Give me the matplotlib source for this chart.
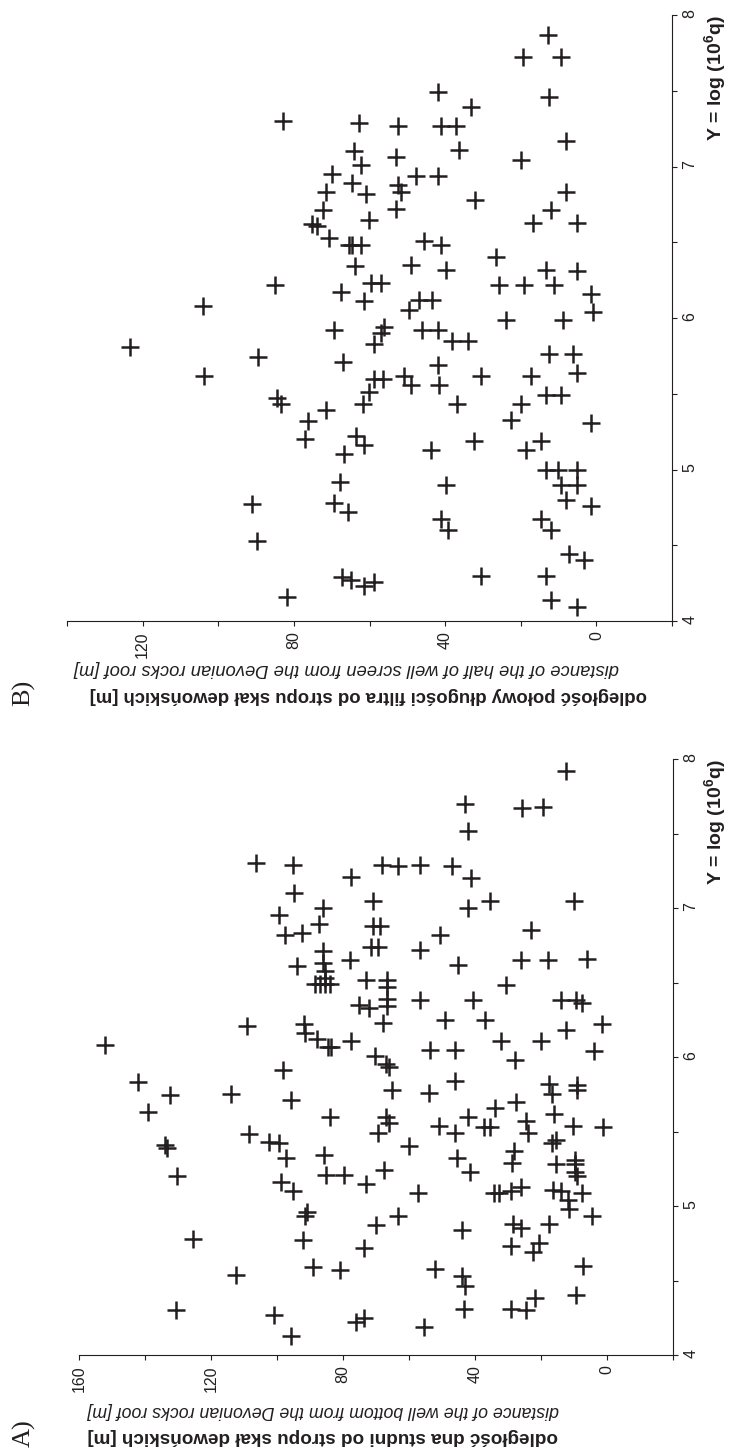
import matplotlib.pyplot as plt
from matplotlib.ticker import MultipleLocator

plt.rcParams['font.family'] = ['Liberation Sans', 'DejaVu Sans']
plt.rcParams['mathtext.fontset'] = 'custom'
plt.rcParams['mathtext.rm'] = 'Liberation Sans:bold'
plt.rcParams['mathtext.default'] = 'rm'

INK = '#231f20'

# panel A: distance of the well bottom from the Devonian roof [m] vs Y = log(10^6 q)
dist_a = [152, 142.2, 132.4, 114, 95.8, 139.2, 84, 108.6, 102.5, 99.5,
          69.4, 67, 66, 65, 54, 46, 42, 46, 51, 37.2,
          35.5, 34, 27.6, 24.5, 24, 16.7, 16, 17.4, 10.3, 1.1,
          8.9, 8.9, 16.7, 15.3, 28, 28.7, 9.6, 9.6, 9.6, 15.3,
          8.9, 16.3, 13.9, 7.5, 11.7, 11.4, 25.9, 29, 34.3, 32.6,
          4.4, 17.4, 28.3, 25.9, 29.1, 20.5, 22.3, 7.1, 9.3, 21.6,
          24.5, 29.1, 43.2, 44, 43, 52, 43.8, 41.4, 45.4, 60,
          57.2, 63.3, 70, 73.6, 81, 89.2, 92, 91.6, 90.9, 95,
          98.7, 97.3, 85.8, 85.1, 79.8, 73, 67.5, 125.5, 112.4, 130.7,
          101, 95.8, 76, 73.5, 55.3, 130.2, 134, 133.3,
          106.2, 95.1, 77.5, 68, 63.2, 94.8, 86.1, 71, 99.3, 87.2,
          97.6, 92.5, 71, 68.8, 86.1, 71.5, 69.2, 77.8, 94, 86.1,
          85.5, 85.5, 85.5, 88.5, 87, 84, 73, 66.7, 66.7, 75.2,
          72, 66.7, 66.7, 67.7, 109.2, 91.7, 91.5, 87.9, 84.6, 83.6,
          77.5, 70.2, 67, 66, 98.1, 5.9, 1.3, 7.4, 3.9,
          12.5, 19.2, 25.8, 42.9, 42, 56.5, 46.8, 41.3, 10, 42,
          50.5, 17.9, 56.5, 30.4, 56.5, 40.4, 36.8, 32.2, 45.9, 20,
          14, 26, 45, 53.5, 49, 27.7, 12.5, 35.3, 23, 9.4]
logq_a = [6.08, 5.83, 5.745, 5.75, 5.71, 5.63, 5.60, 5.48, 5.43, 5.42,
          5.49, 5.60, 5.56, 5.78, 5.76, 5.84, 5.60, 5.49, 5.54, 5.53,
          5.53, 5.66, 5.70, 5.57, 5.49, 5.75, 5.62, 5.82, 5.54, 5.53,
          5.81, 5.78, 5.42, 5.44, 5.37, 5.29, 5.31, 5.28, 5.23, 5.28,
          5.20, 5.11, 5.10, 5.09, 5.04, 4.98, 5.13, 5.10, 5.09, 5.09,
          4.93, 4.88, 4.88, 4.85, 4.73, 4.75, 4.69, 4.60, 4.40, 4.38,
          4.30, 4.31, 4.31, 4.53, 4.46, 4.58, 4.84, 5.23, 5.32, 5.40,
          5.09, 4.93, 4.87, 4.72, 4.57, 4.59, 4.77, 4.93, 4.96, 5.10,
          5.16, 5.32, 5.34, 5.21, 5.21, 5.15, 5.24, 4.78, 4.54, 4.30,
          4.27, 4.13, 4.22, 4.25, 4.19, 5.20, 5.41, 5.39,
          7.30, 7.29, 7.21, 7.29, 7.28, 7.10, 7.00, 7.05, 6.95, 6.89,
          6.82, 6.83, 6.88, 6.88, 6.71, 6.74, 6.74, 6.65, 6.61, 6.63,
          6.58, 6.53, 6.49, 6.49, 6.49, 6.49, 6.52, 6.52, 6.47, 6.35,
          6.33, 6.39, 6.34, 6.23, 6.21, 6.22, 6.16, 6.12, 6.07, 6.07,
          6.11, 6.01, 5.95, 5.93, 5.91, 6.66, 6.22, 6.36, 6.04,
          7.92, 7.68, 7.67, 7.70, 7.52, 7.29, 7.28, 7.20, 7.05, 7.00,
          6.82, 6.65, 6.72, 6.48, 6.38, 6.38, 6.25, 6.11, 6.05, 6.11,
          6.38, 6.65, 6.62, 6.05, 6.25, 5.98, 6.18, 7.05, 6.85, 6.38]

# panel B: distance of the half of well screen from the Devonian roof [m]
dist_b = [83.0, 62.9, 64.0, 62.3, 69.8, 64.5, 60.8, 71.5, 72.2, 60.1,
          75.1, 74, 70.7, 65.4, 64.5, 62.3, 63.9, 59.6, 57, 67.6,
          61.4, 85.1, 104, 123.4, 69.3, 56.1, 57, 58.9, 89.5, 66.9,
          103.8, 58.7, 56.5, 60.1, 84.4, 83.5, 61.8, 71.5, 76.2, 77.1,
          63.6, 61.4, 66.7, 67.8, 69.3, 65.8, 91.0, 89.8, 67.4, 64.9,
          61.4, 58.7, 81.7, 1.3, 0.8, 1.3, 1.3, 3.4,
          12.7, 19.3, 9.3, 41.9, 12.5, 33.1, 41.1, 37.1, 8, 36.3,
          19.9, 41.9, 47.7, 51.7, 8, 32.1, 11.9, 16.7, 5, 45.6,
          41.1, 26.5, 49, 39.8, 13.3, 5, 25.7, 19.1, 11.1, 46.9,
          43.5, 49.6, 23.9, 8.7, 46.1, 41.9, 38.2, 33.9, 12.5, 6.1,
          41.9, 50.9, 30.5, 17.2, 5, 49, 41.6, 13.3, 9.3, 36.8,
          19.9, 22.5, 32.3, 14.6, 43.7, 18.6, 13.3, 10.1, 5, 5,
          39.8, 9.3, 8, 41.1, 14.6, 39.2, 11.9, 7.2, 30.5, 13.3,
          5, 11.9, 52.5, 53, 52.5, 53]
logq_b = [7.30, 7.29, 7.10, 7.01, 6.95, 6.89, 6.82, 6.83, 6.71, 6.65,
          6.62, 6.61, 6.53, 6.48, 6.48, 6.48, 6.34, 6.23, 6.23, 6.17,
          6.11, 6.22, 6.08, 5.81, 5.92, 5.94, 5.90, 5.83, 5.74, 5.71,
          5.62, 5.60, 5.60, 5.51, 5.47, 5.43, 5.43, 5.39, 5.32, 5.20,
          5.22, 5.16, 5.10, 4.92, 4.78, 4.72, 4.77, 4.53, 4.29, 4.27,
          4.23, 4.26, 4.16, 6.16, 6.04, 5.31, 4.76, 4.40,
          7.87, 7.72, 7.72, 7.49, 7.46, 7.39, 7.27, 7.27, 7.17, 7.11,
          7.04, 6.94, 6.94, 6.83, 6.83, 6.78, 6.71, 6.63, 6.63, 6.51,
          6.48, 6.40, 6.35, 6.32, 6.32, 6.31, 6.22, 6.22, 6.22, 6.12,
          6.12, 6.05, 5.99, 5.99, 5.92, 5.92, 5.85, 5.85, 5.76, 5.76,
          5.69, 5.62, 5.62, 5.62, 5.64, 5.56, 5.56, 5.49, 5.49, 5.43,
          5.43, 5.33, 5.19, 5.19, 5.13, 5.13, 5.00, 5.00, 5.00, 4.90,
          4.90, 4.90, 4.80, 4.67, 4.67, 4.60, 4.60, 4.44, 4.30, 4.30,
          4.09, 4.14, 7.27, 7.06, 6.88, 6.72]

W, H = 729, 1449
fig = plt.figure(figsize=(W / 100, H / 100), dpi=100)


def box(left, top, right, bottom):
    # pixel box of the reference -> figure fractions
    return [left / W, 1 - bottom / H, (right - left) / W, (bottom - top) / H]


def draw_panel(ax, dist, logq, dmax):
    # the page is turned: distance runs right-to-left, log q bottom-to-top
    ax.plot(dist, logq, linestyle='none', marker='+', ms=13.5, mew=1.8,
            color=INK, clip_on=False)
    ax.set_xlim(dmax, -20)
    ax.set_ylim(4, 8)
    ax.xaxis.set_major_locator(MultipleLocator(40))
    ax.xaxis.set_minor_locator(MultipleLocator(20))
    ax.yaxis.set_major_locator(MultipleLocator(1))
    ax.yaxis.set_minor_locator(MultipleLocator(0.5))
    ax.yaxis.tick_right()
    for side in ['top', 'left']:
        ax.spines[side].set_visible(False)
    for side in ['bottom', 'right']:
        ax.spines[side].set_color(INK)
        ax.spines[side].set_linewidth(0.8)
    ax.tick_params(which='both', direction='out', length=3.6, width=0.8,
                   colors=INK, labelsize=11.5, pad=4, labelrotation=90)


ax_b = fig.add_axes(box(67, 15, 672, 621))
draw_panel(ax_b, dist_b, logq_b, 140)

ax_a = fig.add_axes(box(79, 759, 672.7, 1355))
draw_panel(ax_a, dist_a, logq_a, 160)

xlab = r'Y = log (10$^{6}$q)'
fig.text(715 / W, 1 - 15 / H, xlab, rotation=90, ha='center', va='top',
         fontsize=14, fontweight='bold', color=INK)
fig.text(715 / W, 1 - 759 / H, xlab, rotation=90, ha='center', va='top',
         fontsize=14, fontweight='bold', color=INK)

# axis titles (upside down after the page turn)
fig.text(346 / W, 1 - 669 / H,
         'distance of the half of well screen from the Devonian rocks roof [m]',
         rotation=180, ha='center', va='center', fontsize=13.2, style='italic', color=INK)
fig.text(368 / W, 1 - 696 / H,
         'odległość połowy długości filtra od stropu skał dewońskich [m]',
         rotation=180, ha='center', va='center', fontsize=13.3, fontweight='bold', color=INK)
fig.text(323 / W, 1 - 1410 / H,
         'distance of the well bottom from the Devonian rocks roof [m]',
         rotation=180, ha='center', va='center', fontsize=12.8, style='italic', color=INK)
fig.text(323 / W, 1 - 1437 / H,
         'odległość dna studni od stropu skał dewońskich [m]',
         rotation=180, ha='center', va='center', fontsize=13.6, fontweight='bold', color=INK)

fig.text(24 / W, 1 - 693 / H, 'B)', rotation=90, ha='center', va='center',
         fontsize=19, family=['Liberation Serif', 'DejaVu Serif'], color=INK)
fig.text(24 / W, 1 - 1433 / H, 'A)', rotation=90, ha='center', va='center',
         fontsize=19, family=['Liberation Serif', 'DejaVu Serif'], color=INK)

fig.savefig('out.png', dpi=100, facecolor='white')
